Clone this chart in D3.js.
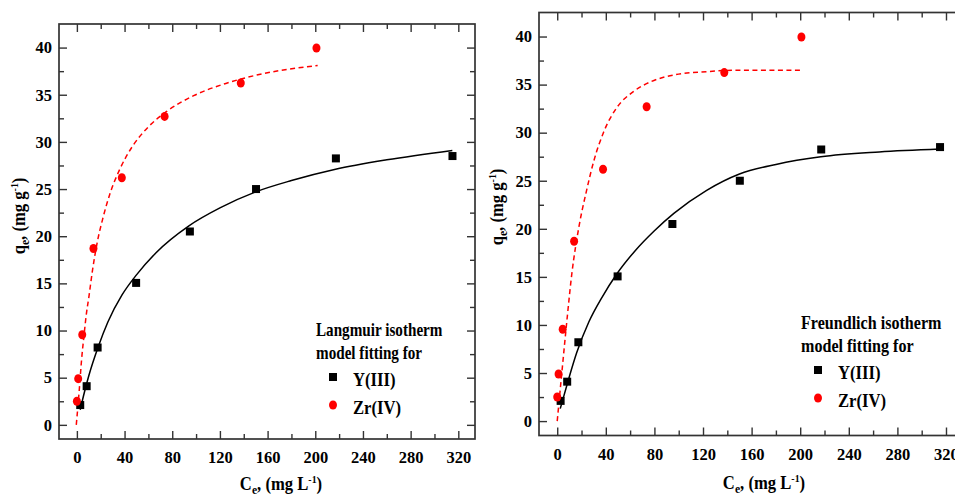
<!DOCTYPE html>
<html>
<head>
<meta charset="utf-8">
<script src="https://cdn.jsdelivr.net/npm/d3@7"></script>
<style>
body { margin: 0; background: #fff; }
svg text { font-family: "Liberation Serif", "Times New Roman", serif; font-weight: bold; fill: #000; }
</style>
</head>
<body>
<svg id="chart" width="955" height="497"></svg>
<script>
// measured points, the same in both panels
const yCe  = [2.8, 8.2, 17.4, 49.7, 94.8, 150.3, 217.3, 315.1];
const yQe  = [2.1, 4.1, 8.2, 15.05, 20.5, 25.0, 28.25, 28.5];
const zrCe = [0, 1.1, 4.5, 13.9, 37.7, 73.6, 137.5, 201];
const zrQe = [2.5, 4.9, 9.55, 18.7, 26.2, 32.7, 36.25, 39.95];

// fitted curves
const langY = [[2.8,1.6],[6,3.3],[10,5.2],[18,8.3],[26,10.9],[38,13.8],[50,15.9],[66,18.2],
    [94,21.1],[120,23.0],[150,24.7],[180,25.9],[217,27.1],[260,28.1],[315,29.1]];
const langZr = [[-0.5,0],[2,3.7],[4,7.0],[6,9.5],[8,11.8],[10,13.5],[13,16.3],[17,19.3],[22,22.0],
    [28,24.6],[36,27.1],[47,29.6],[60,31.6],[75,33.2],[98,34.9],[125,36.2],[155,37.2],[202,38.1]];
const freuY = [[2.5,1.3],[9,4.2],[16,7.1],[26,10.3],[37,12.9],[49,15.3],[64,17.7],[80,19.8],
    [96,21.6],[123,24.0],[150,25.7],[180,26.7],[217,27.5],[265,28.0],[315,28.3]];
const freuZr = [[0,0],[4,5.3],[8,10.5],[12,15.3],[18,20.3],[24,23.9],[30,27.0],[38,30.0],[49,32.6],
    [63,34.3],[77,35.3],[96,36.0],[123,36.35],[150,36.5],[201,36.5]];

const xTicks = [0, 40, 80, 120, 160, 200, 240, 280, 320];
const xMinor = [20, 60, 100, 140, 180, 220, 260, 300];
const yTicks = [0, 5, 10, 15, 20, 25, 30, 35, 40];
const yMinor = [2.5, 7.5, 12.5, 17.5, 22.5, 27.5, 32.5, 37.5];
const xDomain = [-15, 334];
const yDomain = [-1.5, 42.5];

const legendNames = ["Y(III)", "Zr(IV)"];

var svg = d3.select("#chart");

function axisPair(g, axisFn, scale, major, minor, showLabels, pad) {
    g.append("g").call(axisFn(scale).tickValues(minor).tickSize(-5).tickSizeOuter(0).tickFormat(""));
    g.append("g").call(axisFn(scale).tickValues(major).tickSize(-8).tickSizeOuter(0)
        .tickPadding(pad).tickFormat(showLabels ? d3.format("d") : ""));
    g.selectAll(".domain").remove();
    g.selectAll("g").attr("font-family", null).attr("font-size", null);
    g.selectAll(".tick line").attr("stroke", "#333").attr("stroke-width", 1.4);
    g.selectAll(".tick text").attr("font-size", "16.5px").attr("fill", "#111");
}

// the original text is a bit narrow, so squeeze it sideways
function squeezed(parent, x, y, rot, size, sx) {
    return parent.append("text").attr("font-size", size + "px")
        .attr("transform", "translate(" + x + "," + y + ")" + (rot ? " rotate(" + rot + ")" : "") + " scale(" + sx + ",1)");
}

function drawPanel(p) {
    var x = d3.scaleLinear().domain(xDomain).range(p.xr);
    var y = d3.scaleLinear().domain(yDomain).range(p.yr);
    var g = svg.append("g");

    axisPair(g.append("g").attr("transform", "translate(0," + p.yr[0] + ")"), d3.axisBottom, x, xTicks, xMinor, true, 12.5);
    axisPair(g.append("g").attr("transform", "translate(0," + p.yr[1] + ")"), d3.axisTop, x, xTicks, xMinor, false, 3);
    axisPair(g.append("g").attr("transform", "translate(" + p.xr[0] + ",0)"), d3.axisLeft, y, yTicks, yMinor, true, 7);
    axisPair(g.append("g").attr("transform", "translate(" + p.xr[1] + ",0)"), d3.axisRight, y, yTicks, yMinor, false, 3);

    g.append("rect")
        .attr("x", p.xr[0]).attr("y", p.yr[1])
        .attr("width", p.xr[1] - p.xr[0]).attr("height", p.yr[0] - p.yr[1])
        .attr("fill", "none").attr("stroke", "#333").attr("stroke-width", 1.7);

    var line = d3.line().x(d => x(d[0])).y(d => y(d[1])).curve(d3.curveMonotoneX);

    g.append("path").datum(p.fitY)
        .attr("fill", "none").attr("stroke", "#000").attr("stroke-width", 1.5)
        .attr("d", line);
    g.append("path").datum(p.fitZr)
        .attr("fill", "none").attr("stroke", "#ff0000").attr("stroke-width", 1.5)
        .attr("stroke-dasharray", "5,3.5")
        .attr("d", line);

    g.selectAll("rect.ypt").data(yCe).join("rect")
        .attr("class", "ypt")
        .attr("x", (d, i) => x(d) - 4).attr("y", (d, i) => y(yQe[i]) - 4)
        .attr("width", 8).attr("height", 8).attr("fill", "#000");
    g.selectAll("ellipse.zpt").data(zrCe).join("ellipse")
        .attr("class", "zpt")
        .attr("cx", d => x(d)).attr("cy", (d, i) => y(zrQe[i]))
        .attr("rx", 4).attr("ry", 4.5).attr("fill", "#ff0000");

    // axis titles
    var yt = squeezed(g, p.ytitle[0], p.ytitle[1], -90, 18.5, 0.9).attr("text-anchor", "middle");
    yt.append("tspan").text("q");
    yt.append("tspan").attr("font-size", "13px").attr("dy", 4).text("e");
    yt.append("tspan").attr("dy", -4).text(", (mg g");
    yt.append("tspan").attr("font-size", "11px").attr("dy", -7).text("-1");
    yt.append("tspan").attr("dy", 7).text(")");

    var xt = squeezed(g, p.xtitle[0], p.xtitle[1], 0, 18.5, 0.9).attr("text-anchor", "middle");
    xt.append("tspan").text("C");
    xt.append("tspan").attr("font-size", "13px").attr("dy", 4).text("e");
    xt.append("tspan").attr("dy", -4).text(", (mg L");
    xt.append("tspan").attr("font-size", "11px").attr("dy", -7).text("-1");
    xt.append("tspan").attr("dy", 7).text(")");

    // legend
    var lg = g.append("g").attr("transform", "translate(" + p.legend[0] + "," + p.legend[1] + ")");
    squeezed(lg, 0, 0, 0, 18.5, p.sx).text(p.model + " isotherm");
    squeezed(lg, 0, 23, 0, 18.5, p.sx).text("model fitting for");
    lg.append("rect").attr("x", p.mark - 4).attr("y", 37).attr("width", 8).attr("height", 8).attr("fill", "#000");
    lg.append("ellipse").attr("cx", p.mark).attr("cy", 69).attr("rx", 4).attr("ry", 4.5).attr("fill", "#ff0000");
    legendNames.forEach(function (d, i) {
        squeezed(lg, p.mark + 20, 50 + i * 28, 0, 18.5, 0.9).text(d);
    });
}

drawPanel({ xr: [59, 475], yr: [439, 24], fitY: langY, fitZr: langZr, sx: 0.82,
    ytitle: [25, 216], xtitle: [281, 490], legend: [316, 336], model: "Langmuir", mark: 17 });
drawPanel({ xr: [539, 963], yr: [435.5, 12.5], fitY: freuY, fitZr: freuZr, sx: 0.87,
    ytitle: [503, 207], xtitle: [764, 489], legend: [801, 329], model: "Freundlich", mark: 17 });
</script>
</body>
</html>
